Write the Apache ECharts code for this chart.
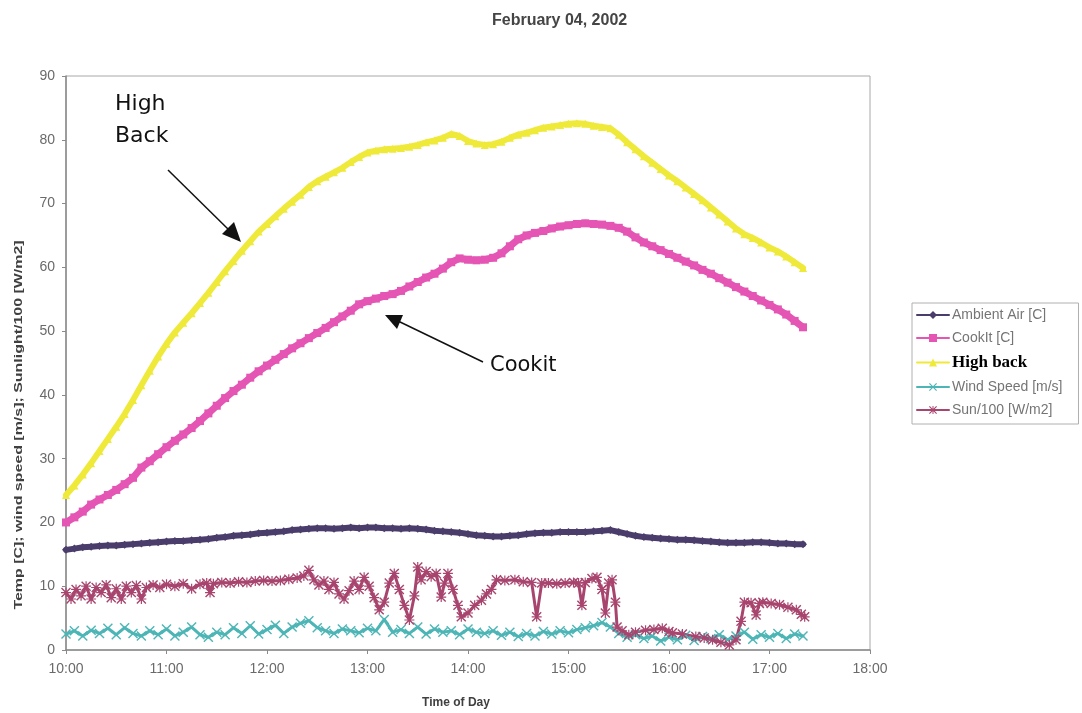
<!DOCTYPE html>
<html>
<head>
<meta charset="utf-8">
<script src="https://cdn.jsdelivr.net/npm/echarts/dist/echarts.min.js"></script>
<style>
html,body{margin:0;padding:0;background:#fff;}
#c{width:1082px;height:713px;}
</style>
</head>
<body>
<div id="c"></div>
<script>
// ---- data (minutes after 10:00) ----
const xTickLabels = ["10:00","11:00","12:00","13:00","14:00","15:00","16:00","17:00","18:00"];
const yTickLabels = ["0","10","20","30","40","50","60","70","80","90"];
const seriesNames = ["Ambient Air [C]","CookIt [C]","High back","Wind Speed [m/s]","Sun/100 [W/m2]"];

const times = [0,5,10,15,20,25,30,35,40,45,50,55,60,65,70,75,80,85,90,95,100,105,110,115,120,125,130,135,140,145,150,155,160,165,170,175,180,185,190,195,200,205,210,215,220,225,230,235,240,245,250,255,260,265,270,275,280,285,290,295,300,305,310,315,320,325,330,335,340,345,350,355,360,365,370,375,380,385,390,395,400,405,410,415,420,425,430,435,440];

const ambient = [15.7,15.9,16.1,16.2,16.3,16.4,16.4,16.5,16.6,16.7,16.8,16.9,17.0,17.1,17.1,17.2,17.3,17.4,17.6,17.7,17.9,18.0,18.1,18.3,18.4,18.5,18.6,18.8,18.9,19.0,19.1,19.1,19.0,19.1,19.2,19.1,19.2,19.2,19.1,19.1,19.0,19.1,19.0,18.9,18.7,18.6,18.5,18.4,18.2,18.0,17.9,17.8,17.8,17.9,18.0,18.2,18.3,18.4,18.4,18.5,18.5,18.5,18.5,18.6,18.7,18.8,18.5,18.2,17.9,17.7,17.6,17.5,17.4,17.3,17.3,17.2,17.1,17.0,16.9,16.8,16.8,16.8,16.9,16.9,16.8,16.7,16.7,16.6,16.6];

const cookit = [20.0,20.8,21.7,22.8,23.6,24.3,25.1,26.0,27.0,28.6,29.6,30.7,31.8,32.8,33.8,34.8,35.9,37.1,38.3,39.5,40.6,41.6,42.7,43.7,44.6,45.5,46.4,47.3,48.1,48.9,49.7,50.5,51.4,52.3,53.2,54.2,54.7,55.1,55.5,55.8,56.3,57.0,57.7,58.4,59.0,59.8,60.8,61.4,61.2,61.1,61.2,61.5,62.2,63.3,64.4,65.0,65.4,65.7,66.1,66.4,66.6,66.8,66.9,66.8,66.7,66.5,66.2,65.6,64.7,63.9,63.3,62.7,62.1,61.5,60.9,60.3,59.6,59.0,58.3,57.6,56.9,56.2,55.5,54.8,54.1,53.4,52.6,51.6,50.6];

const highBack = [24.3,25.8,27.5,29.3,31.2,33.1,35.0,37.0,39.2,41.5,43.8,46.0,48.0,49.8,51.3,52.8,54.4,56.0,57.7,59.4,61.0,62.6,64.1,65.6,66.8,68.0,69.2,70.3,71.4,72.6,73.5,74.2,74.9,75.6,76.5,77.3,78.0,78.3,78.5,78.6,78.7,78.9,79.2,79.6,79.9,80.3,80.9,80.6,79.8,79.4,79.2,79.3,79.7,80.3,80.8,81.1,81.5,81.9,82.1,82.3,82.5,82.6,82.5,82.2,82.0,81.8,80.8,79.6,78.5,77.4,76.4,75.4,74.4,73.5,72.5,71.5,70.5,69.4,68.3,67.2,66.1,65.2,64.6,63.9,63.1,62.5,61.7,60.8,59.9];

const wind = [2.5,3.0,2.2,3.1,2.6,3.4,2.4,3.5,2.6,2.2,3.0,2.4,3.3,2.2,2.8,3.6,2.4,2.0,2.8,2.4,3.5,2.6,3.8,2.5,3.2,3.9,2.6,3.6,4.2,4.6,3.5,3.0,2.6,3.3,3.0,2.7,3.4,3.0,4.8,2.8,3.2,2.6,3.6,2.5,3.3,2.8,3.0,2.4,3.3,2.8,2.6,3.0,2.3,2.8,2.1,2.6,2.2,2.9,2.5,3.0,2.7,3.2,3.5,3.8,4.3,3.6,2.6,2.0,2.4,1.8,2.2,1.4,2.0,1.6,2.3,1.5,2.1,1.8,2.4,1.6,2.2,2.8,1.7,2.4,2.0,2.6,1.8,2.5,2.2];

const sunTimes = [0,3,6,9,12,15,18,21,24,27,30,33,36,39,42,45,48,52,56,60,65,70,75,80,84,86,88,93,98,103,108,113,118,123,128,133,138,142,145,148,151,154,157,160,163,166,169,172,175,178,181,184,187,190,193,196,199,202,205,208,210,212,215,218,221,224,226,228,231,234,236,240,244,248,251,254,257,262,268,273,278,281,284,288,293,298,303,306,308,310,314,317,320,322,324,326,328,329,332,336,340,346,351,356,360,362,368,376,381,386,391,396,400,403,405,409,412,414,416,421,426,431,436,439,441];
const sun = [9.0,8.0,9.5,8.5,10.0,8.0,9.8,9.0,10.2,8.2,9.6,8.0,10.0,9.0,10.1,8.0,9.8,10.2,9.8,10.3,10.0,10.4,9.6,10.3,10.5,9.0,10.4,10.6,10.5,10.7,10.6,10.8,10.9,10.8,10.9,11.1,11.3,11.6,12.5,11.0,10.2,10.8,9.5,10.6,8.8,8.0,9.3,10.8,9.5,11.4,10.0,8.2,6.3,7.5,10.5,12.0,9.5,7.0,4.7,8.5,13.0,11.0,12.3,11.5,12.0,8.3,10.5,12.0,9.5,7.0,5.2,5.8,7.0,7.8,8.8,9.5,11.0,10.9,11.0,10.7,10.6,5.2,10.5,10.5,10.4,10.5,10.6,10.5,7.0,10.6,11.2,11.4,9.5,5.8,10.5,11.0,7.5,3.6,3.0,2.4,2.8,3.1,3.2,3.4,2.9,2.7,2.5,2.1,1.9,1.6,1.2,0.8,1.6,4.5,7.5,7.4,5.5,7.3,7.5,7.3,7.1,6.7,6.3,5.6,5.2];

const colors = ["#4b3d6b","#e455b4","#efe93a","#4db5b5","#a8456f"];

function pairs(ts, vs){ return ts.map((t,i)=>[t, vs[i]]); }

const xShape = 'path://M0,1L1,0L5,4L9,0L10,1L6,5L10,9L9,10L5,6L1,10L0,9L4,5Z';
const starShape = 'path://M0,1L1,0L4.4,3.4L4.4,0L5.6,0L5.6,3.4L9,0L10,1L6.6,4.4L10,4.4L10,5.6L6.6,5.6L10,9L9,10L5.6,6.6L5.6,10L4.4,10L4.4,6.6L1,10L0,9L3.4,5.6L0,5.6L0,4.4L3.4,4.4Z';

function mkSeries(name, data, color, symbol, size, lw){
  return {
    name: name, type: 'line', data: data,
    symbol: symbol, symbolSize: size, showSymbol: true,
    lineStyle: {color: color, width: lw, join: 'round', cap: 'round'},
    itemStyle: {color: color, borderWidth: 0},
    emphasis: {disabled: true},
    animation: false
  };
}

const FONT = '"Liberation Sans", Arial, sans-serif';
const chart = echarts.init(document.getElementById('c'), null, {renderer: 'canvas'});
chart.setOption({
  backgroundColor: '#ffffff',
  animation: false,
  title: {
    text: 'February 04, 2002',
    left: 487, top: 8,
    textStyle: {fontFamily: FONT, fontSize: 16, fontWeight: 'bold', color: '#454545'}
  },
  grid: {left: 66, right: 212, top: 76, bottom: 63, show: true, borderColor: '#a8a8a8', borderWidth: 1, backgroundColor: 'transparent'},
  xAxis: {
    type: 'value', min: 0, max: 480, interval: 60,
    axisLine: {onZero: false, lineStyle: {color: '#8a8a8a', width: 1.5}},
    axisTick: {show: true, inside: false, length: 4, lineStyle: {color: '#8a8a8a'}},
    axisLabel: {formatter: v => xTickLabels[Math.round(v/60)], fontFamily: FONT, fontSize: 14, color: '#6a6a6a', margin: 12},
    splitLine: {show: false}
  },
  yAxis: {
    type: 'value', min: 0, max: 90, interval: 10,
    axisLine: {show: true, lineStyle: {color: '#8a8a8a', width: 1.5}},
    axisTick: {show: true, inside: false, length: 4, lineStyle: {color: '#8a8a8a'}},
    axisLabel: {formatter: v => yTickLabels[Math.round(v/10)], fontFamily: FONT, fontSize: 14, color: '#6a6a6a', margin: 11},
    splitLine: {show: false}
  },
  legend: {
    orient: 'vertical', left: 912, top: 303,
    padding: [5, 16, 7, 4], itemGap: 9, itemWidth: 32, itemHeight: 10,
    borderColor: '#b0b0b0', borderWidth: 1,
    data: seriesNames,
    textStyle: {fontFamily: FONT, fontSize: 14, color: '#757575', padding: [0, 0, 0, -2],
      rich: {hb: {fontFamily: '"Liberation Serif", "Times New Roman", serif', fontSize: 17, fontWeight: 'bold', color: '#000000'}}},
    formatter: n => n === 'High back' ? '{hb|High back}' : n
  },
  series: [
    mkSeries(seriesNames[0], pairs(times, ambient), colors[0], 'diamond', 8, 6),
    mkSeries(seriesNames[1], pairs(times, cookit), colors[1], 'rect', 8, 7),
    mkSeries(seriesNames[2], pairs(times, highBack), colors[2], 'triangle', 8, 6),
    mkSeries(seriesNames[3], pairs(times, wind), colors[3], xShape, 10, 3),
    mkSeries(seriesNames[4], pairs(sunTimes, sun), colors[4], starShape, 10, 3)
  ],
  graphic: [
    {type: 'text', x: 19, y: 425, rotation: Math.PI/2, scaleX: 1.45,
      style: {text: 'Temp [C]; wind speed [m/s]; Sunlight/100 [W/m2]', font: 'bold 11px ' + FONT, fill: '#404040', align: 'center', verticalAlign: 'middle'}},
    {type: 'text', x: 456, y: 703,
      style: {text: 'Time of Day', font: 'bold 12px ' + FONT, fill: '#404040', align: 'center', verticalAlign: 'middle'}},
    {type: 'text', left: 115, top: 88, style: {text: 'High\nBack', font: '22px "DejaVu Sans", sans-serif', fill: '#111', lineHeight: 32}},
    {type: 'line', shape: {x1: 168, y1: 170, x2: 230, y2: 231}, style: {stroke: '#111', lineWidth: 1.5}},
    {type: 'polygon', shape: {points: [[241, 242], [222, 234], [234, 222]]}, style: {fill: '#111'}},
    {type: 'text', left: 490, top: 355, style: {text: 'Cookit', font: '21px "DejaVu Sans", sans-serif', fill: '#111'}},
    {type: 'line', shape: {x1: 483, y1: 362, x2: 398, y2: 321}, style: {stroke: '#111', lineWidth: 1.5}},
    {type: 'polygon', shape: {points: [[385, 315], [403, 315], [397, 329]]}, style: {fill: '#111'}}
  ]
});
</script>
</body>
</html>
